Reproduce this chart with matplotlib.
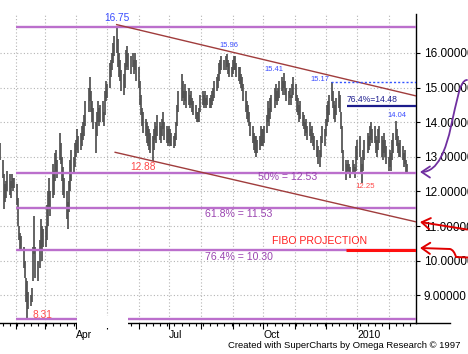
import numpy as np
import pandas as pd
import matplotlib
matplotlib.use("Agg")
import matplotlib.pyplot as plt
import matplotlib.dates as mdates
from matplotlib.ticker import FixedLocator, FormatStrFormatter, FuncFormatter
from matplotlib.patches import FancyArrowPatch, Rectangle
from matplotlib.path import Path
from matplotlib.lines import Line2D

plt.rcParams['font.family'] = ['Liberation Sans', 'DejaVu Sans']

# daily bars, one row per month, starting 2009-01-16 (business days)
highs = [
    13.4, 12.9, 12.5, 12.2, 12.3, 12.6, 12.5, 12.3, 12.5, 12.4, 12.4,                      # Jan 09
    12.2, 11.8, 11.0, 10.8, 10.7, 10.4, 10.0, 9.5, 9.4, 9.1, 9.0, 9.2, 10.4, 11.3, 10.4,
    10.0, 10.6, 11.2, 11.0, 10.9,                                                          # Feb
    11.0, 11.6, 12.0, 12.4, 12.0, 12.8, 12.6, 13.1, 13.2, 12.9, 13.7, 13.4, 13.0, 12.7,
    12.4, 12.0, 11.7, 12.3, 12.9, 13.2, 13.0, 13.4,                                        # Mar
    13.5, 13.8, 13.6, 13.7, 13.9, 14.0, 14.2, 14.6, 15.0, 15.3, 14.9, 14.6, 14.4, 14.0,
    14.3, 14.6, 14.4, 14.5, 14.6, 14.3, 14.9, 15.2,                                        # Apr
    15.1, 15.7, 15.8, 16.0, 16.3, 16.5, 16.75, 16.4, 16.0, 15.8, 15.5, 15.4, 15.7, 16.1,
    16.2, 16.0, 15.9, 16.0, 15.8, 16.0, 15.8,                                              # May
    15.6, 15.2, 14.8, 14.4, 14.3, 14.1, 14.0, 13.9, 13.8, 13.7, 13.6, 13.8, 14.0, 13.9,
    14.2, 14.0, 13.9, 14.1, 14.3, 14.0, 13.9, 13.8,                                        # Jun
    13.9, 13.8, 13.7, 13.6, 13.7, 14.0, 14.5, 14.9, 15.4, 15.2, 14.9, 15.1, 14.9, 15.0,
    14.8, 14.9, 14.7, 14.6, 14.5, 14.3, 14.3, 14.4, 14.8,                                  # Jul
    14.9, 14.8, 14.9, 14.7, 14.8, 14.7, 14.8, 14.9, 15.0, 15.2, 15.3, 15.4, 15.7, 15.8,
    15.9, 15.8, 15.9, 15.96, 15.8, 15.7, 15.6,                                             # Aug
    15.8, 15.9, 15.9, 15.7, 15.6, 15.6, 15.4, 15.3, 15.1, 14.9, 14.6, 14.5, 14.3, 14.0,
    13.9, 13.7, 13.6, 13.6, 13.5, 13.6, 13.9, 13.8,                                        # Sep
    13.8, 13.9, 14.2, 14.6, 14.4, 14.7, 14.8, 15.0, 15.1, 14.9, 15.0, 15.2, 15.3, 15.2,
    15.41, 15.2, 15.0, 14.9, 15.0, 14.8, 15.1, 15.3,                                       # Oct
    15.1, 14.8, 14.7, 14.5, 14.6, 14.3, 14.2, 14.0, 14.1, 13.9, 14.0, 13.8, 13.9, 13.7,
    13.6, 13.5, 13.3, 13.2, 13.6, 13.9, 13.8,                                              # Nov
    14.1, 14.5, 14.6, 14.8, 15.17, 14.9, 14.6, 14.5, 14.7, 14.9, 14.8, 14.3, 13.9, 13.2,
    12.9, 12.8, 12.9, 12.8, 12.7, 12.9, 12.8, 12.7, 13.3,                                  # Dec
    13.5, 13.6, 13.0, 12.8, 13.2, 13.5, 13.7, 13.6, 13.9, 14.0, 13.8, 13.9, 13.6, 13.5,
    13.8, 13.9, 13.6, 13.5, 13.7, 13.5, 13.3,                                              # Jan 10
    13.0, 13.2, 13.1, 13.5, 13.7, 14.04, 13.8, 13.6, 13.4, 13.5, 13.3, 13.1, 13.2, 12.9,
    12.8,                                                                                  # Feb 10
]
lows = [
    12.9, 12.4, 11.5, 11.7, 11.8, 12.0, 11.9, 11.8, 12.1, 12.0, 12.1,
    11.6, 11.0, 10.6, 10.3, 10.3, 9.8, 9.5, 8.8, 8.31, 8.6, 8.7, 8.8, 9.4, 10.2, 9.5,
    9.4, 9.8, 10.3, 10.0, 10.4,
    10.4, 10.6, 11.0, 11.5, 11.3, 11.8, 11.9, 12.3, 12.5, 12.4, 12.9, 12.8, 12.3, 11.9,
    11.8, 11.2, 10.9, 11.4, 12.0, 12.3, 12.5, 12.7,
    13.0, 13.2, 13.1, 13.2, 13.3, 13.5, 13.6, 13.9, 14.3, 14.6, 14.3, 14.0, 13.8, 13.1,
    13.6, 14.0, 13.9, 14.0, 14.0, 13.9, 14.2, 14.6,
    14.7, 15.0, 15.3, 15.5, 15.7, 15.9, 16.0, 15.6, 15.3, 15.2, 14.9, 14.8, 15.0, 15.5,
    15.6, 15.5, 15.4, 15.6, 15.4, 15.5, 15.2,
    15.0, 14.5, 14.2, 13.9, 13.7, 13.6, 13.4, 13.3, 13.2, 13.1, 12.88, 13.2, 13.5, 13.4,
    13.6, 13.5, 13.4, 13.6, 13.8, 13.5, 13.4, 13.3,
    13.4, 13.3, 13.3, 13.25, 13.3, 13.5, 13.9, 14.3, 14.6, 14.7, 14.5, 14.6, 14.4, 14.5,
    14.4, 14.5, 14.3, 14.2, 14.1, 14.0, 14.0, 14.0, 14.3,
    14.5, 14.4, 14.5, 14.4, 14.5, 14.4, 14.4, 14.5, 14.6, 14.7, 14.9, 15.0, 15.2, 15.4,
    15.5, 15.5, 15.5, 15.6, 15.4, 15.3, 15.3,
    15.4, 15.5, 15.5, 15.3, 15.2, 15.1, 15.0, 14.9, 14.6, 14.3, 14.1, 14.0, 13.9, 13.6,
    13.4, 13.2, 13.1, 13.0, 13.1, 13.2, 13.3, 13.3,
    13.3, 13.4, 13.7, 14.0, 13.9, 14.1, 14.3, 14.4, 14.6, 14.5, 14.6, 14.7, 14.9, 14.8,
    15.0, 14.8, 14.6, 14.5, 14.7, 14.5, 14.7, 14.8,
    14.6, 14.3, 14.2, 14.0, 14.1, 13.9, 13.8, 13.6, 13.7, 13.5, 13.6, 13.4, 13.5, 13.3,
    13.2, 13.0, 12.8, 12.7, 13.0, 13.4, 13.3,
    13.6, 13.9, 14.0, 14.2, 14.6, 14.4, 14.1, 14.0, 14.2, 14.4, 14.3, 13.8, 13.1, 12.6,
    12.33, 12.5, 12.6, 12.5, 12.4, 12.5, 12.5, 12.4, 12.6,
    12.9, 13.0, 12.5, 12.25, 12.6, 12.9, 13.1, 13.2, 13.3, 13.5, 13.4, 13.4, 13.1, 13.0,
    13.2, 13.4, 13.0, 12.9, 13.1, 13.0, 12.8,
    12.6, 12.7, 12.6, 12.9, 13.1, 13.5, 13.3, 13.1, 13.0, 13.0, 12.9, 12.7, 12.8, 12.5,
    12.5,
]

# fibonacci retracement levels (high 16.75, low 8.31)
fib_levels = [16.75, 12.53, 11.53, 10.30, 8.31]
fib_labels = ["50% = 12.53", "61.8% = 11.53", "76.4% = 10.30"]

# trend channel (date, price)
upper_trend = (["2009-05-10 12:00", "2010-02-27 10:00"], [16.82, 14.76])
lower_trend = (["2009-05-09 00:00", "2010-02-27 10:00"], [13.13, 11.12])

W, H = 468, 354
fig = plt.figure(figsize=(W / 100, H / 100), dpi=100)
ax = fig.add_axes([0, 31 / H, 416 / W, 309 / H])

dates = pd.bdate_range("2009-01-16", periods=len(highs))
ax.vlines(dates, lows, highs, color="#505050", lw=1.25, zorder=3)

x0 = pd.Timestamp("2009-01-16 08:00")
x1 = pd.Timestamp("2010-02-27 10:00")
ax.set_xlim(x0, x1)
ax.set_ylim(8.197, 17.127)

# axes styling
for s in ["left", "top"]:
    ax.spines[s].set_visible(False)
ax.spines["right"].set_linewidth(1.0)
ax.spines["bottom"].set_linewidth(1.0)

ax.yaxis.tick_right()
ax.yaxis.set_major_locator(FixedLocator(np.arange(9, 17)))
ax.yaxis.set_major_formatter(FormatStrFormatter("%.5f"))
ax.tick_params(axis="y", length=3, pad=2.5, labelsize=8.5, width=0.8)

ax.xaxis.set_major_locator(mdates.MonthLocator())
ax.xaxis.set_minor_locator(mdates.WeekdayLocator(byweekday=mdates.MO))


def month_fmt(v, pos):
    d = mdates.num2date(v)
    if d.month in (4, 7, 10):
        return d.strftime("%b")
    if d.month == 1:
        return d.strftime("%Y")
    return ""


ax.xaxis.set_major_formatter(FuncFormatter(month_fmt))
ax.tick_params(axis="x", which="major", length=4, pad=1.2, labelsize=7.5, width=0.8)
ax.tick_params(axis="x", which="minor", length=2.5, width=0.8)
for lbl in ax.get_xticklabels():
    lbl.set_ha("left")

ax.grid(True, which="major", color="#b4b4b4", ls=(0, (1, 2)), lw=0.8, zorder=0)

# fib levels
feb1 = pd.Timestamp("2009-02-01")
ax.hlines(fib_levels, feb1, x1, color="#bb6fcc", lw=1.7, zorder=4)

# trend channel
ax.plot([pd.Timestamp(d) for d in upper_trend[0]], upper_trend[1], color="#a03c3c", lw=1.0, zorder=5)
ax.plot([pd.Timestamp(d) for d in lower_trend[0]], lower_trend[1], color="#a03c3c", lw=1.0, zorder=5)

# projection lines
ax.hlines(15.17, pd.Timestamp("2009-12-06"), x1, color="#3355ff", ls=(0, (1.5, 1.5)), lw=1.0, zorder=5)
ax.hlines(14.48, pd.Timestamp("2009-12-22"), x1, color="#1c1c8c", lw=1.6, zorder=5)
ax.hlines(10.30, pd.Timestamp("2009-12-21"), x1, color="#ff1010", lw=2.2, zorder=5)

# labels
blue = "#3a4cff"
red = "#ff4a4a"
purple = "#9a44b0"
T = pd.Timestamp
ax.text(T("2009-05-10 12:00"), 17.0, "16.75", color=blue, fontsize=7.3, ha="center", va="center", zorder=6)
ax.text(T("2009-06-05 18:00"), 12.71, "12.88", color=red, fontsize=7.3, ha="center", va="center", zorder=6)
ax.text(T("2009-02-16 16:00"), 8.44, "8.31", color=red, fontsize=7.3, ha="left", va="center", zorder=6)
ax.text(T("2009-08-19 12:00"), 16.22, "15.96", color=blue, fontsize=5.4, ha="left", va="center", zorder=6)
ax.text(T("2009-10-01 16:00"), 15.51, "15.41", color=blue, fontsize=5.4, ha="left", va="center", zorder=6)
ax.text(T("2009-11-16 12:00"), 15.22, "15.17", color=blue, fontsize=5.4, ha="left", va="center", zorder=6)
ax.text(T("2009-12-21 20:00"), 14.66, "76.4%=14.48", color="#202090", fontsize=6.2, ha="left", va="center", zorder=6)
ax.text(T("2010-01-30"), 14.18, "14.04", color=blue, fontsize=5.4, ha="left", va="center", zorder=6)
ax.text(T("2009-12-29 16:00"), 12.14, "12.25", color=red, fontsize=5.6, ha="left", va="center", zorder=6)
ax.text(T("2009-09-25 08:00"), 12.42, fib_labels[0], color=purple, fontsize=7.6, ha="left", va="center", zorder=6)
ax.text(T("2009-08-04 20:00"), 11.36, fib_labels[1], color=purple, fontsize=7.6, ha="left", va="center", zorder=6)
ax.text(T("2009-08-04 20:00"), 10.09, fib_labels[2], color=purple, fontsize=7.6, ha="left", va="center", zorder=6)
ax.text(T("2009-10-09 12:00"), 10.57, "FIBO PROJECTION", color="#ff2020", fontsize=7.6, ha="left", va="center", zorder=6)


# decorations outside the plot, in figure pixels
def fpx(x, y):
    return (x / W, 1 - y / H)


fig.add_artist(Line2D([416 / W, 450 / W], [1 - 323 / H] * 2, color="black", lw=1.0))
fig.add_artist(Rectangle(fpx(77, 328), 51 / W, 12 / H, facecolor="white", edgecolor="none", zorder=10))

purple_path = Path([fpx(467, 80), fpx(452, 80), fpx(455, 172), fpx(420, 172)],
                   [Path.MOVETO, Path.CURVE4, Path.CURVE4, Path.CURVE4])
fig.add_artist(FancyArrowPatch(path=purple_path, arrowstyle="->,head_length=0.6,head_width=0.4",
                               mutation_scale=10, color="#7030a0", lw=1.3, transform=fig.transFigure))

red1 = Path([fpx(467, 229.5), fpx(420, 222)], [Path.MOVETO, Path.LINETO])
fig.add_artist(FancyArrowPatch(path=red1, arrowstyle="->,head_length=0.6,head_width=0.4",
                               mutation_scale=10, color="#e00000", lw=1.4, transform=fig.transFigure))

red2 = Path([fpx(468, 257.5), fpx(456, 257), fpx(454, 250), fpx(450, 249), fpx(420, 248)],
            [Path.MOVETO, Path.LINETO, Path.CURVE3, Path.CURVE3, Path.LINETO])
fig.add_artist(FancyArrowPatch(path=red2, arrowstyle="->,head_length=0.6,head_width=0.4",
                               mutation_scale=10, color="#e00000", lw=1.4, transform=fig.transFigure))

fig.text(460 / W, 1 - 345 / H, "Created with SuperCharts by Omega Research \u00a9 1997",
         ha="right", va="center", fontsize=6.8)

fig.savefig("out.png", dpi=100)
